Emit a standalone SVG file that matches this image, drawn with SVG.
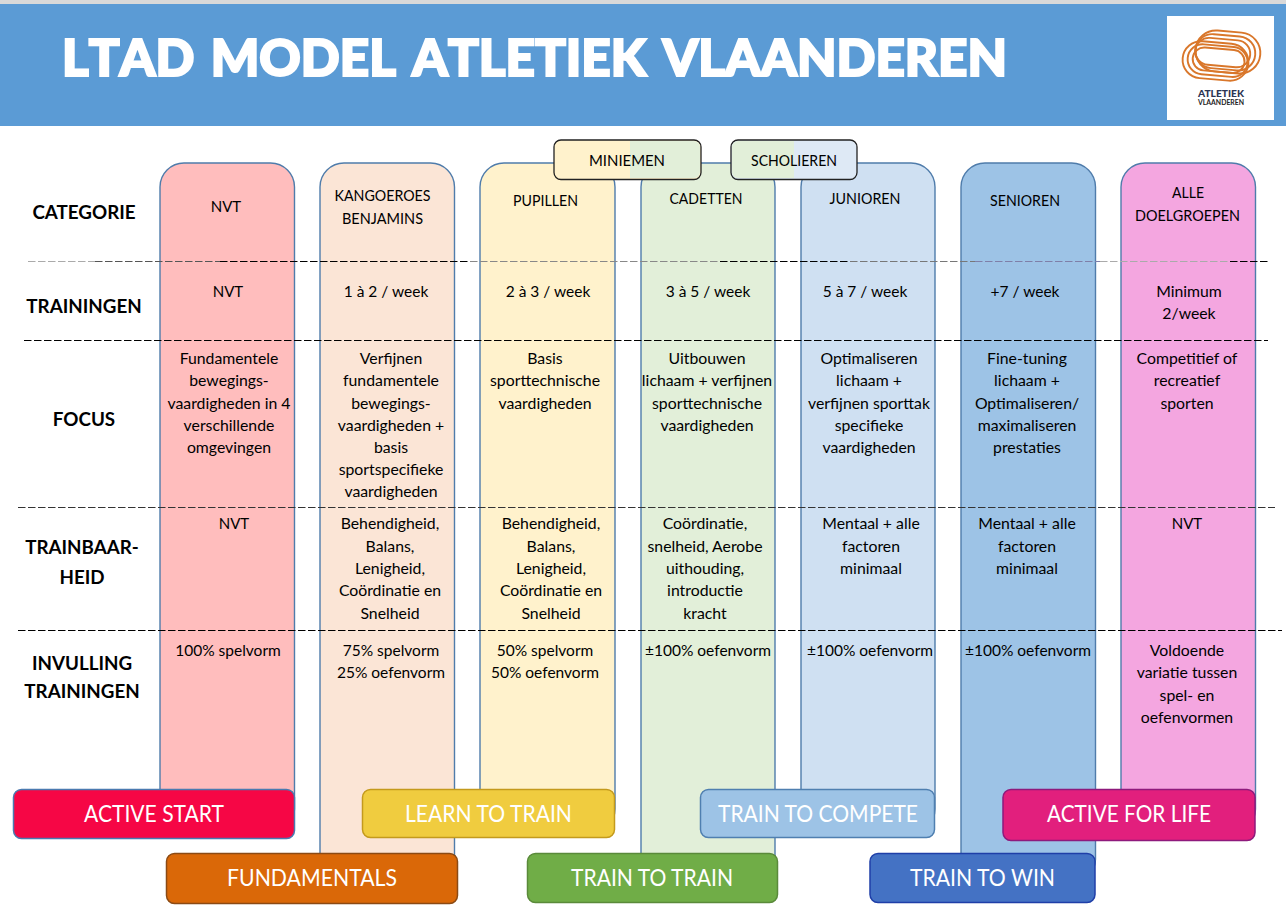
<svg xmlns="http://www.w3.org/2000/svg" width="1286" height="920" viewBox="0 0 1286 920">
<defs>
<style>
text{font-family:"Lato","Open Sans","Liberation Sans",sans-serif;fill:#000;text-anchor:middle}
.c{font-size:15.8px}
.n{font-size:15.5px}
.u{font-size:15px}
.h{font-size:18.8px;font-weight:700}
.b{font-size:23.5px;fill:#fff}
.col{stroke:#4f7cab;stroke-width:1.4}
.btn{stroke-width:1.5}
.d{stroke:#000;stroke-width:1.2;stroke-dasharray:7.500 2.500;fill:none}
.tr{fill:none;stroke:#d9772b;stroke-width:1.9}
</style>
</defs>
<rect width="1286" height="920" fill="#fff"/>
<rect x="0" y="0" width="1286" height="4" fill="#d9d9d9"/>
<g id="header">
<rect x="0" y="4" width="1286" height="122" fill="#5b9bd5"/>
<text x="534.500" y="76" textLength="945" lengthAdjust="spacingAndGlyphs" style="font-size:51px;font-weight:900;fill:#fff;stroke:#fff;stroke-width:2.2;word-spacing:4px;font-kerning:none">LTAD MODEL ATLETIEK VLAANDEREN</text>
</g>
<g id="logo">
<rect x="1167" y="16" width="107" height="104" fill="#fff"/>
<g transform="rotate(5 1222 56)">
<rect class="tr" x="1195" y="31" width="65" height="41" rx="20.500"/>
<rect class="tr" x="1195" y="35" width="60" height="34" rx="17"/>
<rect class="tr" x="1195" y="39" width="55" height="27" rx="13.500"/>
<rect class="tr" x="1183" y="43" width="66" height="37" rx="18.500"/>
<rect class="tr" x="1188" y="46" width="60" height="30" rx="15"/>
<rect class="tr" x="1193" y="49" width="52" height="23" rx="11.500"/>
</g>
<text x="1221" y="96.500" textLength="46" lengthAdjust="spacingAndGlyphs" style="font-size:9.5px;font-weight:900;fill:#2c3553">ATLETIEK</text>
<text x="1221" y="104.500" textLength="46" lengthAdjust="spacingAndGlyphs" style="font-size:6.5px;font-weight:700;fill:#222">VLAANDEREN</text>
</g>
<g id="col-1"><rect class="col" x="160" y="163" width="134.500" height="670" rx="24" fill="#ffbdbd"/>
<text class="u" x="226" y="212">NVT</text><text class="u" x="228" y="297">NVT</text>
<text class="c" x="229" y="364">Fundamentele</text><text class="c" x="229" y="386">bewegings-</text><text class="c" x="229" y="409">vaardigheden in 4</text><text class="c" x="229" y="431">verschillende</text><text class="c" x="229" y="453">omgevingen</text>
<text class="u" x="234" y="529">NVT</text><text class="n" x="228" y="656">100% spelvorm</text></g>
<g id="col-2"><rect class="col" x="320" y="163" width="134.500" height="720" rx="24" fill="#fbe5d6"/>
<text class="u" x="382.500" y="201" textLength="96" lengthAdjust="spacingAndGlyphs">KANGOEROES</text><text class="u" x="382.500" y="224" textLength="81" lengthAdjust="spacingAndGlyphs">BENJAMINS</text><text class="n" x="386" y="297">1 à 2 / week</text>
<text class="c" x="391" y="364">Verfijnen</text><text class="c" x="391" y="386">fundamentele</text><text class="c" x="391" y="409">bewegings-</text><text class="c" x="391" y="431">vaardigheden +</text><text class="c" x="391" y="453">basis</text><text class="c" x="391" y="475">sportspecifieke</text><text class="c" x="391" y="497">vaardigheden</text>
<text class="c" x="390" y="529">Behendigheid,</text><text class="c" x="390" y="552">Balans,</text><text class="c" x="390" y="574">Lenigheid,</text><text class="c" x="390" y="596">Coördinatie en</text><text class="c" x="390" y="619">Snelheid</text>
<text class="n" x="391" y="656">75% spelvorm</text><text class="n" x="391" y="678">25% oefenvorm</text></g>
<g id="col-3"><rect class="col" x="480" y="163" width="135" height="670" rx="24" fill="#fff2cc"/>
<text class="u" x="545.500" y="206" textLength="65" lengthAdjust="spacingAndGlyphs">PUPILLEN</text><text class="n" x="548" y="297">2 à 3 / week</text>
<text class="c" x="545" y="364">Basis</text><text class="c" x="545" y="386">sporttechnische</text><text class="c" x="545" y="409">vaardigheden</text>
<text class="c" x="551" y="529">Behendigheid,</text><text class="c" x="551" y="552">Balans,</text><text class="c" x="551" y="574">Lenigheid,</text><text class="c" x="551" y="596">Coördinatie en</text><text class="c" x="551" y="619">Snelheid</text>
<text class="n" x="545" y="656">50% spelvorm</text><text class="n" x="545" y="678">50% oefenvorm</text></g>
<g id="col-4"><rect class="col" x="641" y="163" width="134" height="720" rx="24" fill="#e2efd9"/>
<text class="u" x="706" y="204" textLength="73" lengthAdjust="spacingAndGlyphs">CADETTEN</text><text class="n" x="708" y="297">3 à 5 / week</text>
<text class="c" x="707" y="364">Uitbouwen</text><text class="c" x="707" y="386">lichaam + verfijnen</text><text class="c" x="707" y="409">sporttechnische</text><text class="c" x="707" y="431">vaardigheden</text>
<text class="c" x="705" y="529">Coördinatie,</text><text class="c" x="705" y="552">snelheid, Aerobe</text><text class="c" x="705" y="574">uithouding,</text><text class="c" x="705" y="596">introductie</text><text class="c" x="705" y="619">kracht</text>
<text class="n" x="708" y="656">±100% oefenvorm</text></g>
<g id="col-5"><rect class="col" x="801" y="163" width="134" height="670" rx="24" fill="#cfe0f2"/>
<text class="u" x="865" y="204" textLength="71" lengthAdjust="spacingAndGlyphs">JUNIOREN</text><text class="n" x="865" y="297">5 à 7 / week</text>
<text class="c" x="869" y="364">Optimaliseren</text><text class="c" x="869" y="386">lichaam +</text><text class="c" x="869" y="409">verfijnen sporttak</text><text class="c" x="869" y="431">specifieke</text><text class="c" x="869" y="453">vaardigheden</text>
<text class="c" x="871" y="529">Mentaal + alle</text><text class="c" x="871" y="552">factoren</text><text class="c" x="871" y="574">minimaal</text>
<text class="n" x="870" y="656">±100% oefenvorm</text></g>
<g id="col-6"><rect class="col" x="961" y="163" width="134.500" height="720" rx="24" fill="#9dc3e6"/>
<text class="u" x="1025" y="206" textLength="70" lengthAdjust="spacingAndGlyphs">SENIOREN</text><text class="n" x="1025" y="297">+7 / week</text>
<text class="c" x="1027" y="364">Fine-tuning</text><text class="c" x="1027" y="386">lichaam +</text><text class="c" x="1027" y="409">Optimaliseren/</text><text class="c" x="1027" y="431">maximaliseren</text><text class="c" x="1027" y="453">prestaties</text>
<text class="c" x="1027" y="529">Mentaal + alle</text><text class="c" x="1027" y="552">factoren</text><text class="c" x="1027" y="574">minimaal</text>
<text class="n" x="1028" y="656">±100% oefenvorm</text></g>
<g id="col-7"><rect class="col" x="1121" y="163" width="134.500" height="670" rx="24" fill="#f4a6e0"/>
<text class="u" x="1188" y="198" textLength="32" lengthAdjust="spacingAndGlyphs">ALLE</text><text class="u" x="1187.500" y="221" textLength="105" lengthAdjust="spacingAndGlyphs">DOELGROEPEN</text><text class="c" x="1189" y="297">Minimum</text><text class="c" x="1189" y="319">2/week</text>
<text class="c" x="1187" y="364">Competitief of</text><text class="c" x="1187" y="386">recreatief</text><text class="c" x="1187" y="409">sporten</text>
<text class="u" x="1187" y="529">NVT</text>
<text class="c" x="1187" y="656">Voldoende</text><text class="c" x="1187" y="678">variatie tussen</text><text class="c" x="1187" y="701">spel- en</text><text class="c" x="1187" y="723">oefenvormen</text></g>
<g id="row-labels">
<text class="h" x="84" y="219">CATEGORIE</text>
<text class="h" x="84" y="313">TRAININGEN</text>
<text class="h" x="84" y="426">FOCUS</text>
<text class="h" x="82" y="554">TRAINBAAR-</text><text class="h" x="82" y="584">HEID</text>
<text class="h" x="82" y="670">INVULLING</text><text class="h" x="82" y="698">TRAININGEN</text>
</g>
<g id="connectors">
<path class="d" d="M28 261.500H95" style="stroke:#aaa"/>
<path class="d" d="M95 261.500H220" style="stroke:#555"/>
<path class="d" d="M220 261.500H470"/>
<path class="d" d="M470 261.500H720" style="stroke:#888"/>
<path class="d" d="M720 261.500H850"/>
<path class="d" d="M850 261.500H975" style="stroke:#777"/>
<path class="d" d="M975 261.500H1100" style="stroke:#7f7fa8"/>
<path class="d" d="M1100 261.500H1230" style="stroke:#aaa"/>
<path class="d" d="M1230 261.500H1268"/>
<path class="d" d="M24 340.500H1268"/>
<path class="d" d="M18 507.500H1275" style="stroke:#333"/>
<path class="d" d="M18 630.500H1282"/>
</g>
<g id="miniemen">
<rect x="554" y="140" width="147" height="39.500" rx="7" fill="#fff2cc" stroke="#222" stroke-width="1.300"/>
<path d="M630 141H694a6 6 0 0 1 6 6V172a6 6 0 0 1-6 6H630Z" fill="#e2efd9"/>
<text class="u" x="627" y="166" textLength="76" lengthAdjust="spacingAndGlyphs">MINIEMEN</text></g>
<g id="scholieren">
<rect x="731" y="140" width="126" height="39.500" rx="7" fill="#dee9f5" stroke="#222" stroke-width="1.300"/>
<path d="M794 141H738a6 6 0 0 0-6 6V172a6 6 0 0 0 6 6H794Z" fill="#e2efd9"/>
<text class="u" x="794" y="166" textLength="86" lengthAdjust="spacingAndGlyphs">SCHOLIEREN</text></g>
<g id="active-start"><rect class="btn" x="13.500" y="789.500" width="281" height="49" rx="8" fill="#f60645" stroke="#4a7ab0"/><text class="b" x="154" y="822" textLength="140" lengthAdjust="spacingAndGlyphs">ACTIVE START</text></g>
<g id="learn-to-train"><rect class="btn" x="362.500" y="789.500" width="252" height="48" rx="8" fill="#f0cc3f" stroke="#c49a1c"/><text class="b" x="488.500" y="822" textLength="167" lengthAdjust="spacingAndGlyphs">LEARN TO TRAIN</text></g>
<g id="train-to-compete"><rect class="btn" x="700.500" y="789.500" width="234" height="48" rx="8" fill="#9dc3e6" stroke="#4f7fb0"/><text class="b" x="818" y="822" textLength="200" lengthAdjust="spacingAndGlyphs">TRAIN TO COMPETE</text></g>
<g id="active-for-life"><rect class="btn" x="1003" y="789.500" width="252" height="51" rx="8" fill="#e21f7d" stroke="#8e1a7c"/><text class="b" x="1129" y="822" textLength="164" lengthAdjust="spacingAndGlyphs">ACTIVE FOR LIFE</text></g>
<g id="fundamentals"><rect class="btn" x="166.500" y="853.500" width="291" height="50" rx="8" fill="#da6808" stroke="#8b4a14"/><text class="b" x="312" y="886" textLength="170" lengthAdjust="spacingAndGlyphs">FUNDAMENTALS</text></g>
<g id="train-to-train"><rect class="btn" x="527.500" y="853.500" width="250" height="49" rx="8" fill="#70ad47" stroke="#5a8a3a"/><text class="b" x="652" y="886" textLength="162" lengthAdjust="spacingAndGlyphs">TRAIN TO TRAIN</text></g>
<g id="train-to-win"><rect class="btn" x="870" y="853.500" width="225" height="49" rx="8" fill="#4472c4" stroke="#1f3fa8"/><text class="b" x="982.500" y="886" textLength="145" lengthAdjust="spacingAndGlyphs">TRAIN TO WIN</text></g>
</svg>
